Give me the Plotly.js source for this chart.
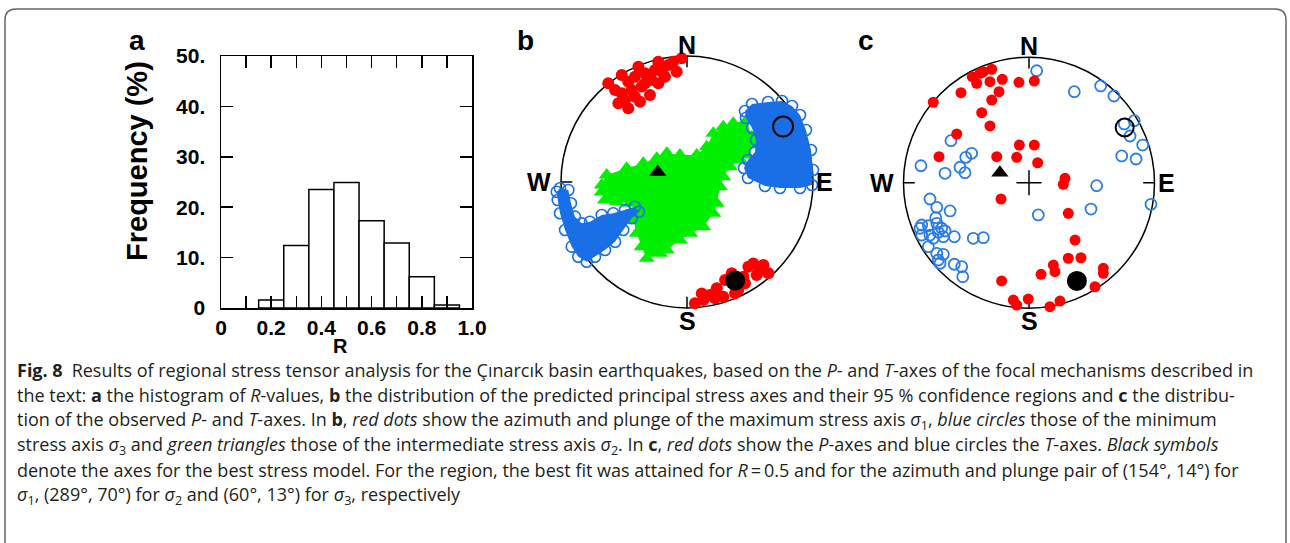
<!DOCTYPE html>
<html><head><meta charset="utf-8">
<script src="https://cdn.plot.ly/plotly-3.0.1.min.js"></script>
<style>html,body{margin:0;padding:0;background:#fff}#chart{width:1290px;height:543px}</style>
</head><body><div id="chart"></div>
<script>
// ---------- (a) histogram of R-values ----------
const rCenters   = [0.2, 0.3, 0.4, 0.5, 0.6, 0.7, 0.8, 0.9];
const rFrequency = [1.6, 12.4, 23.5, 24.9, 17.3, 12.9, 6.2, 0.6];
const xTickVals  = [0, 0.1, 0.2, 0.3, 0.4, 0.5, 0.6, 0.7, 0.8, 0.9, 1.0];
const xTickText  = ['0', '', '0.2', '', '0.4', '', '0.6', '', '0.8', '', '1.0'];
const yTickVals  = [0, 10, 20, 30, 40, 50];
const yTickText  = ['0', '10.', '20.', '30.', '40.', '50.'];

// ---------- best stress model (azimuth, plunge) : sigma1, sigma2, sigma3 ----------
const bestAzimuth = [154, 289, 60];
const bestPlunge  = [14, 70, 13];

// ---------- (b) predicted axes, equal-area projection (east, north), unit circle ----------
const bSigma1X = [-0.625,-0.518,-0.466,-0.386,-0.413,-0.333,-0.228,-0.201,-0.280,-0.360,-0.439,-0.518,-0.545,-0.466,-0.373,-0.294,-0.228,-0.175,-0.109,-0.042,-0.082,-0.571,-0.413,-0.333,-0.254,-0.148,-0.492,
                  0.063,0.130,0.183,0.236,0.288,0.302,0.407,0.447,0.487,0.526,0.579,0.646,0.553,0.460,0.222,0.117,0.355,0.606,0.381];
const bSigma1Y = [0.783,0.849,0.796,0.915,0.836,0.863,0.955,0.875,0.810,0.757,0.730,0.704,0.625,0.585,0.637,0.690,0.783,0.836,0.955,0.982,0.875,0.730,0.677,0.783,0.889,0.929,0.651,
                  -0.963,-0.937,-0.897,-0.844,-0.910,-0.778,-0.857,-0.752,-0.672,-0.646,-0.698,-0.725,-0.738,-0.804,-0.923,-0.884,-0.725,-0.659,-0.884];
const bSigma2X = [-0.677,-0.637,-0.479,-0.347,-0.240,-0.160,-0.056,0.077,0.156,0.209,0.288,0.367,0.474,0.513,0.540,0.474,0.421,0.341,0.288,0.262,0.236,0.209,0.129,0.024,-0.056,-0.161,-0.214,-0.320,-0.360,-0.399,-0.426,-0.399,-0.452,-0.558,-0.651,-0.677];
const bSigma2Y = [-0.024,0.056,0.109,0.148,0.188,0.228,0.214,0.214,0.280,0.386,0.439,0.466,0.492,0.360,0.294,0.214,0.175,0.121,0.042,-0.037,-0.169,-0.248,-0.355,-0.407,-0.460,-0.540,-0.566,-0.606,-0.513,-0.407,-0.302,-0.222,-0.169,-0.156,-0.143,-0.079];
const bSigma3NEX = [0.460,0.516,0.643,0.754,0.833,0.897,0.944,0.984,1.000,0.992,0.897,0.738,0.619,0.484,0.452,0.484,0.540,0.548,0.516,0.468];
const bSigma3NEY = [0.563,0.619,0.635,0.643,0.603,0.532,0.413,0.254,0.095,-0.024,-0.048,-0.048,-0.032,0.032,0.111,0.175,0.238,0.333,0.429,0.508];
const bSigma3SWX = [-1.034,-1.008,-0.942,-0.921,-0.889,-0.836,-0.770,-0.677,-0.585,-0.492,-0.413,-0.381,-0.439,-0.506,-0.571,-0.651,-0.730,-0.796,-0.863,-0.915,-0.968,-1.008,-1.026];
const bSigma3SWY = [-0.077,-0.050,-0.063,-0.169,-0.275,-0.328,-0.315,-0.262,-0.248,-0.222,-0.196,-0.236,-0.288,-0.381,-0.474,-0.540,-0.593,-0.633,-0.593,-0.513,-0.381,-0.248,-0.143];

// ---------- (c) observed P- and T-axes (east, north), unit circle ----------
const cPX = [-0.763,-0.542,-0.452,-0.417,-0.364,-0.297,-0.311,-0.213,-0.239,-0.297,-0.377,-0.311,-0.576,-0.080,0.042,-0.717,-0.257,-0.098,-0.077,0.042,0.069,0.287,0.273,-0.223,0.313,0.367,0.313,0.414,0.194,0.207,0.096,-0.218,0.592,0.592,0.526,-0.125,-0.098,-0.006,0.167,0.247,-0.390];
const cPY = [0.641,0.717,0.845,0.792,0.884,0.904,0.805,0.824,0.725,0.659,0.558,0.452,0.388,0.800,0.810,0.207,0.207,0.202,0.300,0.300,0.159,0.035,-0.013,-0.130,-0.244,-0.457,-0.602,-0.598,-0.656,-0.709,-0.730,-0.783,-0.682,-0.722,-0.829,-0.935,-0.975,-0.927,-0.988,-0.943,0.872];
const cTX = [0.061,0.361,0.571,0.677,0.839,0.759,0.805,0.906,0.739,0.853,-0.622,-0.861,-0.669,-0.550,-0.504,-0.457,-0.510,0.539,0.972,0.494,0.074,-0.789,-0.735,-0.629,-0.743,-0.855,-0.869,-0.802,-0.735,-0.696,-0.723,-0.789,-0.855,-0.669,-0.595,-0.444,-0.364,-0.802,-0.735,-0.683,-0.723,-0.709,-0.595,-0.536,-0.528,-0.763,-0.683];
const cTY = [0.892,0.725,0.771,0.691,0.494,0.468,0.372,0.300,0.213,0.189,0.335,0.135,0.075,0.123,0.202,0.234,0.080,-0.024,-0.172,-0.210,-0.257,-0.130,-0.196,-0.225,-0.279,-0.337,-0.363,-0.343,-0.324,-0.363,-0.395,-0.417,-0.417,-0.385,-0.430,-0.443,-0.438,-0.510,-0.563,-0.571,-0.616,-0.642,-0.650,-0.669,-0.749,-0.443,-0.430];

const compassLabels = ['N', 'E', 'S', 'W'];
const panelLabels = ['a', 'b', 'c'];
const captionLines = [
  '<b>Fig. 8</b>\u2002Results of regional stress tensor analysis for the Çınarcık basin earthquakes, based on the <i>P</i>- and <i>T</i>-axes of the focal mechanisms described in',
  'the text: <b>a</b> the histogram of <i>R</i>-values, <b>b</b> the distribution of the predicted principal stress axes and their 95 % confidence regions and <b>c</b> the distribu-',
  'tion of the observed <i>P</i>- and <i>T</i>-axes. In <b>b</b>, <i>red dots</i> show the azimuth and plunge of the maximum stress axis <i>σ</i><sub>1</sub>, <i>blue circles</i> those of the minimum',
  'stress axis <i>σ</i><sub>3</sub> and <i>green triangles</i> those of the intermediate stress axis <i>σ</i><sub>2</sub>. In <b>c</b>, <i>red dots</i> show the <i>P</i>-axes and blue circles the <i>T</i>-axes. <i>Black symbols</i>',
  'denote the axes for the best stress model. For the region, the best fit was attained for <i>R</i>\u2009=\u20090.5 and for the azimuth and plunge pair of (154°, 14°) for',
  '<i>σ</i><sub>1</sub>, (289°, 70°) for <i>σ</i><sub>2</sub> and (60°, 13°) for <i>σ</i><sub>3</sub>, respectively'
];

// ---------- helpers ----------
const W = 1290, H = 543;
const px = v => v / W;
const py = v => 1 - v / H;
function project(az, pl) {           // lower-hemisphere equal-area (Schmidt) projection
  const r = Math.SQRT2 * Math.sin((90 - pl) / 2 * Math.PI / 180);
  const a = az * Math.PI / 180;
  return [r * Math.sin(a), r * Math.cos(a)];
}
const best = bestAzimuth.map((a, i) => project(a, bestPlunge[i]));

const RED = '#ff0000', GREEN = '#00f000', BLUE_B = '#1a6fe6', BLUE_C = '#2a7de9';
const BOLD = {family: 'Liberation Sans, Arial, sans-serif', weight: 'bold', color: '#000'};

const traces = [];
// (a)
traces.push({type: 'bar', x: rCenters, y: rFrequency, width: 0.1, xaxis: 'x', yaxis: 'y',
  marker: {color: '#fff', line: {color: '#000', width: 1.5}}, hoverinfo: 'skip'});

// (b)
traces.push({x: bSigma2X, y: bSigma2Y, xaxis: 'x2', yaxis: 'y2', mode: 'lines', fill: 'toself',
  fillcolor: GREEN, line: {width: 0, color: GREEN}, hoverinfo: 'skip'});
traces.push({x: bSigma2X, y: bSigma2Y, xaxis: 'x2', yaxis: 'y2', mode: 'markers',
  marker: {symbol: 'triangle-up', size: 14, color: GREEN}, hoverinfo: 'skip'});
[[bSigma3NEX, bSigma3NEY], [bSigma3SWX, bSigma3SWY]].forEach(([xs, ys]) => {
  traces.push({x: xs, y: ys, xaxis: 'x2', yaxis: 'y2', mode: 'lines', fill: 'toself',
    fillcolor: BLUE_B, line: {width: 0, color: BLUE_B}, hoverinfo: 'skip'});
  traces.push({x: xs, y: ys, xaxis: 'x2', yaxis: 'y2', mode: 'markers',
    marker: {symbol: 'circle-open', size: 11, color: BLUE_B, line: {width: 1.6, color: BLUE_B}}, hoverinfo: 'skip'});
});
traces.push({x: bSigma1X, y: bSigma1Y, xaxis: 'x2', yaxis: 'y2', mode: 'markers',
  marker: {symbol: 'circle', size: 12, color: RED}, hoverinfo: 'skip'});

function bestTraces(xa, ya, s3size) {
  return [
    {x: [best[0][0]], y: [best[0][1]], xaxis: xa, yaxis: ya, mode: 'markers', marker: {symbol: 'circle', size: 20, color: '#000'}, hoverinfo: 'skip'},
    {x: [best[1][0]], y: [best[1][1]], xaxis: xa, yaxis: ya, mode: 'markers', marker: {symbol: 'triangle-up', size: 15, color: '#000'}, hoverinfo: 'skip'},
    {x: [best[2][0]], y: [best[2][1]], xaxis: xa, yaxis: ya, mode: 'markers', marker: {symbol: 'circle-open', size: s3size, color: '#000', line: {width: 2, color: '#000'}}, hoverinfo: 'skip'}
  ];
}
traces.push(...bestTraces('x2', 'y2', 20));

// (c)
traces.push({x: cTX, y: cTY, xaxis: 'x3', yaxis: 'y3', mode: 'markers',
  marker: {symbol: 'circle-open', size: 11, color: BLUE_C, line: {width: 1.8, color: BLUE_C}}, hoverinfo: 'skip'});
traces.push({x: cPX, y: cPY, xaxis: 'x3', yaxis: 'y3', mode: 'markers',
  marker: {symbol: 'circle', size: 11, color: RED}, hoverinfo: 'skip'});
traces.push(...bestTraces('x3', 'y3', 18));

// ---------- layout ----------
const netB = {cx: 687, cy: 182, R: 126};
const netC = {cx: 1029, cy: 182.7, R: 125.5};
function netAxes(n) {
  const h = 1.2 * n.R;
  return [
    {domain: [px(n.cx - h), px(n.cx + h)], range: [-1.2, 1.2], visible: false, fixedrange: true},
    {domain: [py(n.cy + h), py(n.cy - h)], range: [-1.2, 1.2], visible: false, fixedrange: true}
  ];
}
const [xb, yb] = netAxes(netB), [xc, yc] = netAxes(netC);

const shapes = [];
const annotations = [];
function netDecor(xa, ya, withCross) {
  const L = {line: {color: '#000', width: 1.5}, layer: 'below', xref: xa, yref: ya};
  shapes.push(Object.assign({type: 'circle', x0: -1, x1: 1, y0: -1, y1: 1}, L));
  const t = 0.09;
  shapes.push(Object.assign({type: 'line', x0: 0, x1: 0, y0: 1, y1: 1 - t}, L));
  shapes.push(Object.assign({type: 'line', x0: 0, x1: 0, y0: -1, y1: -1 + t}, L));
  shapes.push(Object.assign({type: 'line', x0: -1, x1: -1 + t, y0: 0, y1: 0}, L));
  shapes.push(Object.assign({type: 'line', x0: 1, x1: 1 - t, y0: 0, y1: 0}, L));
  if (withCross) {
    shapes.push(Object.assign({type: 'line', x0: -0.1, x1: 0.1, y0: 0, y1: 0}, L));
    shapes.push(Object.assign({type: 'line', x0: 0, x1: 0, y0: -0.1, y1: 0.1}, L));
  }
  const f = Object.assign({size: 25}, BOLD);
  const pos = {
    N: {x: 0, y: 1.09, xanchor: 'center', yanchor: 'middle'},
    E: {x: 1.01, y: 0, xanchor: 'left', yanchor: 'middle'},
    S: {x: 0, y: -1.10, xanchor: 'center', yanchor: 'middle'},
    W: {x: -1.06, y: 0, xanchor: 'right', yanchor: 'middle'}
  };
  compassLabels.forEach(c => annotations.push(Object.assign({text: c, xref: xa, yref: ya, showarrow: false, font: f}, pos[c])));
}
netDecor('x2', 'y2', false);
netDecor('x3', 'y3', true);

// histogram: extended baseline to the right
shapes.push({type: 'line', xref: 'x', yref: 'y', x0: 1, x1: 1.052, y0: 0, y1: 0, line: {color: '#000', width: 1.5}});

// figure frame (rounded top corners)
const fx0 = px(5), fx1 = px(1286), fyt = py(9), fyb = py(545), rx = px(11), ry = 11 / H;
shapes.push({type: 'path', xref: 'paper', yref: 'paper', line: {color: '#666', width: 1.5},
  path: `M ${fx0},${fyb} L ${fx0},${fyt - ry} Q ${fx0},${fyt} ${fx0 + rx},${fyt} L ${fx1 - rx},${fyt} Q ${fx1},${fyt} ${fx1},${fyt - ry} L ${fx1},${fyb}`});

// axis titles of (a)
annotations.push({text: 'Frequency (%)', xref: 'paper', yref: 'paper', x: px(137), y: py(161), textangle: -90,
  showarrow: false, xanchor: 'center', yanchor: 'middle', font: Object.assign({size: 29}, BOLD)});
annotations.push({text: 'R', xref: 'paper', yref: 'paper', x: px(340), y: py(346),
  showarrow: false, xanchor: 'center', yanchor: 'middle', font: Object.assign({size: 20}, BOLD)});
// panel letters
[[137, 40], [525, 40], [866, 40]].forEach((p, i) => annotations.push({text: panelLabels[i], xref: 'paper', yref: 'paper',
  x: px(p[0]), y: py(p[1]), showarrow: false, xanchor: 'center', yanchor: 'middle', font: Object.assign({size: 28}, BOLD)}));
// caption
captionLines.forEach((t, i) => annotations.push({text: t, xref: 'paper', yref: 'paper', x: px(15), y: py(370 + 25 * i),
  xanchor: 'left', yanchor: 'middle', align: 'left', showarrow: false,
  font: {family: 'Open Sans, Lato, sans-serif', size: 18, color: '#231f20'}}));

const layout = {
  width: W, height: H, margin: {l: 0, r: 0, t: 0, b: 0},
  paper_bgcolor: '#fff', plot_bgcolor: 'rgba(0,0,0,0)', showlegend: false,
  font: {family: 'Liberation Sans, Arial, sans-serif', color: '#000'},
  xaxis: {domain: [px(221), px(472)], range: [0, 1], anchor: 'y', tickvals: xTickVals, ticktext: xTickText,
    ticks: 'inside', ticklen: 12, tickwidth: 1.5, tickcolor: '#000', showline: true, linewidth: 1.5, linecolor: '#000',
    mirror: 'allticks', showgrid: false, zeroline: false, ticklabelstandoff: 0, fixedrange: true,
    tickfont: Object.assign({size: 21}, BOLD)},
  yaxis: {domain: [py(308), py(56)], range: [0, 50], anchor: 'x', tickvals: yTickVals, ticktext: yTickText,
    ticks: 'inside', ticklen: 12, tickwidth: 1.5, tickcolor: '#000', showline: true, linewidth: 1.5, linecolor: '#000',
    mirror: 'allticks', showgrid: false, zeroline: false, ticklabelstandoff: 10, fixedrange: true,
    tickfont: Object.assign({size: 21}, BOLD)},
  xaxis2: Object.assign({anchor: 'y2'}, xb), yaxis2: Object.assign({anchor: 'x2'}, yb),
  xaxis3: Object.assign({anchor: 'y3'}, xc), yaxis3: Object.assign({anchor: 'x3'}, yc),
  shapes: shapes, annotations: annotations
};
Plotly.newPlot('chart', traces, layout, {displayModeBar: false, staticPlot: true});
</script>
</body></html>
